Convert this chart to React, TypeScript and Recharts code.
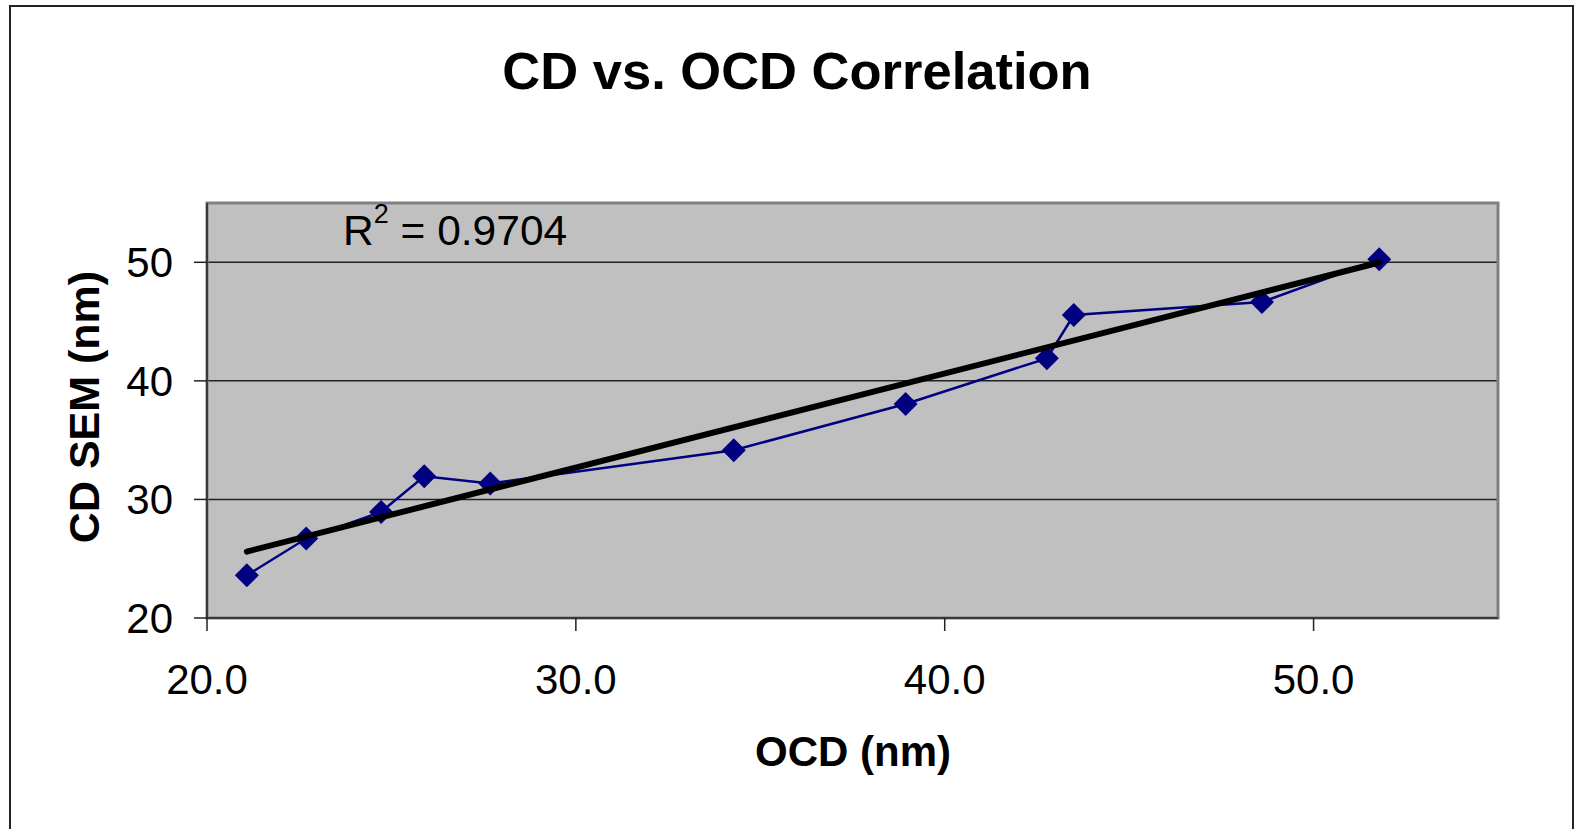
import { ScatterChart, Scatter, XAxis, YAxis, CartesianGrid, ReferenceArea } from 'recharts';

const ocd = [21.08, 22.69, 24.72, 25.89, 27.68, 34.28, 38.94, 42.77, 43.5, 48.6, 51.78];
const cdSem = [23.6, 26.7, 28.95, 31.95, 31.35, 34.15, 38.05, 41.9, 45.55, 46.65, 50.25];
const trendOcd = [21.08, 51.78];
const trendSem = [25.6, 49.98];
const xTicks = [20, 30, 40, 50];
const yTicks = [20, 30, 40, 50];

const FONT = '"Liberation Sans", Arial, sans-serif';
const W = 1577;
const H = 829;

const points = ocd.map((x, i) => ({ x, y: cdSem[i] }));
const trend = trendOcd.map((x, i) => ({ x, y: trendSem[i] }));

function Diamond(props: any) {
  const { cx, cy } = props;
  const r = 12;
  return <polygon points={`${cx},${cy - r} ${cx + r},${cy} ${cx},${cy + r} ${cx - r},${cy}`} fill="#000080" />;
}

const tick = { fill: '#000', fontSize: 42, fontFamily: FONT };

export default function App() {
  return (
    <div style={{ position: 'absolute', left: 0, top: 0, width: W, height: H, background: '#fff' }}>
      <ScatterChart width={W} height={H} margin={{ top: 203, right: 79, bottom: 151, left: 147 }}>
        <CartesianGrid vertical={false} stroke="#222" strokeWidth={1.5} fill="#C0C0C0" fillOpacity={1} />
        <ReferenceArea x1={20} x2={55} y1={20} y2={55} fill="none" stroke="#808080" strokeWidth={3} />
        <XAxis
          type="number"
          dataKey="x"
          domain={[20, 55]}
          ticks={xTicks}
          tickFormatter={(v: number) => v.toFixed(1)}
          height={60}
          tickSize={13}
          tickMargin={33}
          tick={tick}
          stroke="#222"
          strokeWidth={1.5}
          allowDataOverflow
        />
        <YAxis
          type="number"
          dataKey="y"
          domain={[20, 55]}
          ticks={yTicks}
          width={60}
          tickSize={13}
          tickMargin={21}
          tick={tick}
          stroke="#222"
          strokeWidth={1.5}
          allowDataOverflow
        />
        <Scatter
          data={points}
          line={{ stroke: '#000080', strokeWidth: 2.5 }}
          shape={<Diamond />}
          fill="#000080"
          isAnimationActive={false}
        />
        <Scatter
          data={trend}
          line={{ stroke: '#000', strokeWidth: 6, strokeLinecap: 'round' }}
          shape={() => null}
          isAnimationActive={false}
        />
      </ScatterChart>
      <svg width={W} height={H} style={{ position: 'absolute', left: 0, top: 0, pointerEvents: 'none' }}>
        <rect x={10} y={6} width={1563} height={900} fill="none" stroke="#222" strokeWidth={2} />
        <text x={797} y={89} textAnchor="middle" fontFamily={FONT} fontWeight="bold" fontSize={52.5}>
          CD vs. OCD Correlation
        </text>
        <text x={853} y={766} textAnchor="middle" fontFamily={FONT} fontWeight="bold" fontSize={42}>
          OCD (nm)
        </text>
        <text
          x={99}
          y={407}
          textAnchor="middle"
          fontFamily={FONT}
          fontWeight="bold"
          fontSize={43}
          transform="rotate(-90 99 407)"
        >
          CD SEM (nm)
        </text>
        <text x={343} y={245} fontFamily={FONT} fontSize={42.5}>
          R
          <tspan fontSize={27} dy={-22}>2</tspan>
          <tspan dy={22}> = 0.9704</tspan>
        </text>
      </svg>
    </div>
  );
}
